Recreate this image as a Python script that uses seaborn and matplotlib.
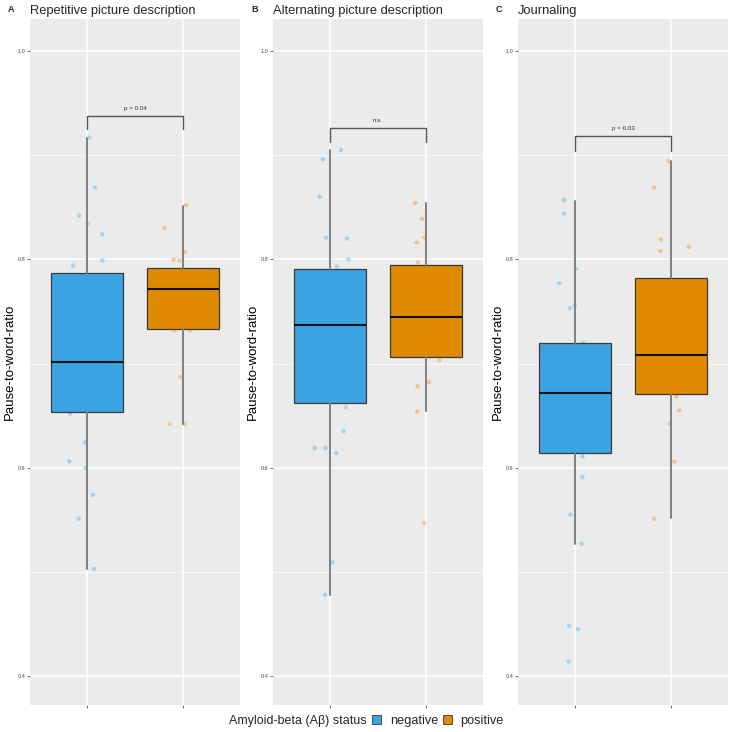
import numpy as np
import pandas as pd
import matplotlib
matplotlib.use('Agg')
import matplotlib.pyplot as plt
import seaborn as sns
from matplotlib.patches import Patch
from matplotlib.ticker import MultipleLocator

# panel titles and labels
titles = ['Repetitive picture description', 'Alternating picture description', 'Journaling']
letters = ['A', 'B', 'C']
groups = ['negative', 'positive']
sig_labels = ['p = 0.04', 'n.s.', 'p = 0.03']
sig_top = [0.9375, 0.926, 0.918]
sig_leg = [0.925, 0.913, 0.904]

# box statistics per panel: (whislo, q1, median, q3, whishi)
box_neg = [(0.503, 0.653, 0.701, 0.787, 0.916),
           (0.478, 0.662, 0.737, 0.791, 0.905),
           (0.527, 0.614, 0.672, 0.720, 0.856)]
box_pos = [(0.642, 0.733, 0.772, 0.792, 0.851),
           (0.654, 0.706, 0.745, 0.795, 0.854),
           (0.552, 0.671, 0.708, 0.782, 0.894)]

# individual observations (jittered)
pts_neg = [[0.917, 0.869, 0.842, 0.834, 0.824, 0.799, 0.794, 0.701, 0.652, 0.624, 0.606, 0.600, 0.574, 0.551, 0.503],
           [0.905, 0.896, 0.860, 0.821, 0.820, 0.800, 0.793, 0.658, 0.635, 0.619, 0.619, 0.614, 0.509, 0.478],
           [0.857, 0.844, 0.791, 0.777, 0.756, 0.753, 0.720, 0.672, 0.611, 0.591, 0.555, 0.527, 0.448, 0.445, 0.414]]
pts_pos = [[0.852, 0.830, 0.807, 0.800, 0.799, 0.732, 0.732, 0.687, 0.642, 0.642],
           [0.854, 0.839, 0.821, 0.816, 0.797, 0.745, 0.703, 0.682, 0.678, 0.654, 0.547],
           [0.894, 0.869, 0.819, 0.812, 0.808, 0.708, 0.668, 0.655, 0.642, 0.606, 0.551]]

colors = {'negative': '#3BA3E2', 'positive': '#E08A00'}

sns.set_theme(style='darkgrid', rc={'axes.facecolor': '#EBEBEB', 'grid.color': 'white'})
plt.rcParams['font.family'] = ['Liberation Sans', 'DejaVu Sans']

np.random.seed(3)
fig = plt.figure(figsize=(7.32, 7.32), dpi=100)
lefts = [30, 273, 518]

for i in range(3):
    ax = fig.add_axes([lefts[i] / 732, 27 / 732, 210 / 732, 686 / 732])
    df = pd.DataFrame({'status': ['negative'] * len(pts_neg[i]) + ['positive'] * len(pts_pos[i]),
                       'ratio': pts_neg[i] + pts_pos[i]})
    sns.stripplot(data=df, x='status', y='ratio', hue='status', order=groups, palette=colors,
                  jitter=0.2, size=3.2, alpha=0.35, linewidth=0, legend=False, ax=ax, zorder=1)
    stats = []
    for b in (box_neg[i], box_pos[i]):
        stats.append(dict(whislo=b[0], q1=b[1], med=b[2], q3=b[3], whishi=b[4], fliers=[]))
    bp = ax.bxp(stats, positions=[0, 1], widths=0.75, patch_artist=True, showcaps=False,
                showfliers=False,
                boxprops=dict(edgecolor='#3a3a3a', linewidth=0.9),
                whiskerprops=dict(color='#808080', linewidth=1.4),
                medianprops=dict(color='#111111', linewidth=1.5))
    for patch, g in zip(bp['boxes'], groups):
        patch.set_facecolor(colors[g])
        patch.set_zorder(2)

    # significance bracket
    ax.plot([0, 0, 1, 1], [sig_leg[i], sig_top[i], sig_top[i], sig_leg[i]],
            color='#555555', linewidth=1.0, zorder=3)
    ax.text(0.5, sig_top[i] + 0.005, sig_labels[i], ha='center', va='bottom',
            fontsize=4.5, color='#333333')

    ax.set_xlim(-0.6, 1.6)
    ax.set_ylim(0.3722, 1.0307)
    ax.set_yticks([0.4, 0.6, 0.8, 1.0])
    ax.set_yticklabels(['0.4', '0.6', '0.8', '1.0'])
    ax.yaxis.set_minor_locator(MultipleLocator(0.1))
    ax.grid(which='major', color='white', linewidth=1.1)
    ax.grid(which='minor', axis='y', color='white', linewidth=0.5)
    ax.set_axisbelow(True)
    ax.set_xticks([0, 1])
    ax.set_xticklabels(['', ''])
    ax.set_xlabel('')
    ax.tick_params(axis='both', which='major', length=2, width=0.5, color='#333333',
                   labelsize=4, labelcolor='#4D4D4D', pad=1, left=True, bottom=True)
    ax.tick_params(axis='y', which='minor', length=0)
    ax.set_ylabel('Pause-to-word-ratio', fontsize=9.5, color='black')
    ax.yaxis.set_label_coords(-14 / 210, 0.5)
    ax.set_title(titles[i], loc='left', fontsize=9.3, pad=3.5)
    for s in ax.spines.values():
        s.set_visible(False)
    fig.text((lefts[i] - 22) / 732, 1 - 10 / 732, letters[i], fontsize=6.5,
             fontweight='bold', ha='left', va='center')

# legend
fig.text(229 / 732, 1 - 721 / 732, 'Amyloid-beta (A\u03b2) status', fontsize=9,
         ha='left', va='center')
handles = [Patch(facecolor=colors[g], edgecolor='#3a3a3a', linewidth=0.6) for g in groups]
fig.legend(handles, groups, loc='center left', bbox_to_anchor=(372 / 732, 1 - 721 / 732),
           ncol=2, frameon=False, fontsize=9.2, handlelength=0.7, handleheight=0.7,
           handletextpad=0.7, columnspacing=0.35, borderpad=0, borderaxespad=0)

fig.savefig('out.png', dpi=100, facecolor='white')
